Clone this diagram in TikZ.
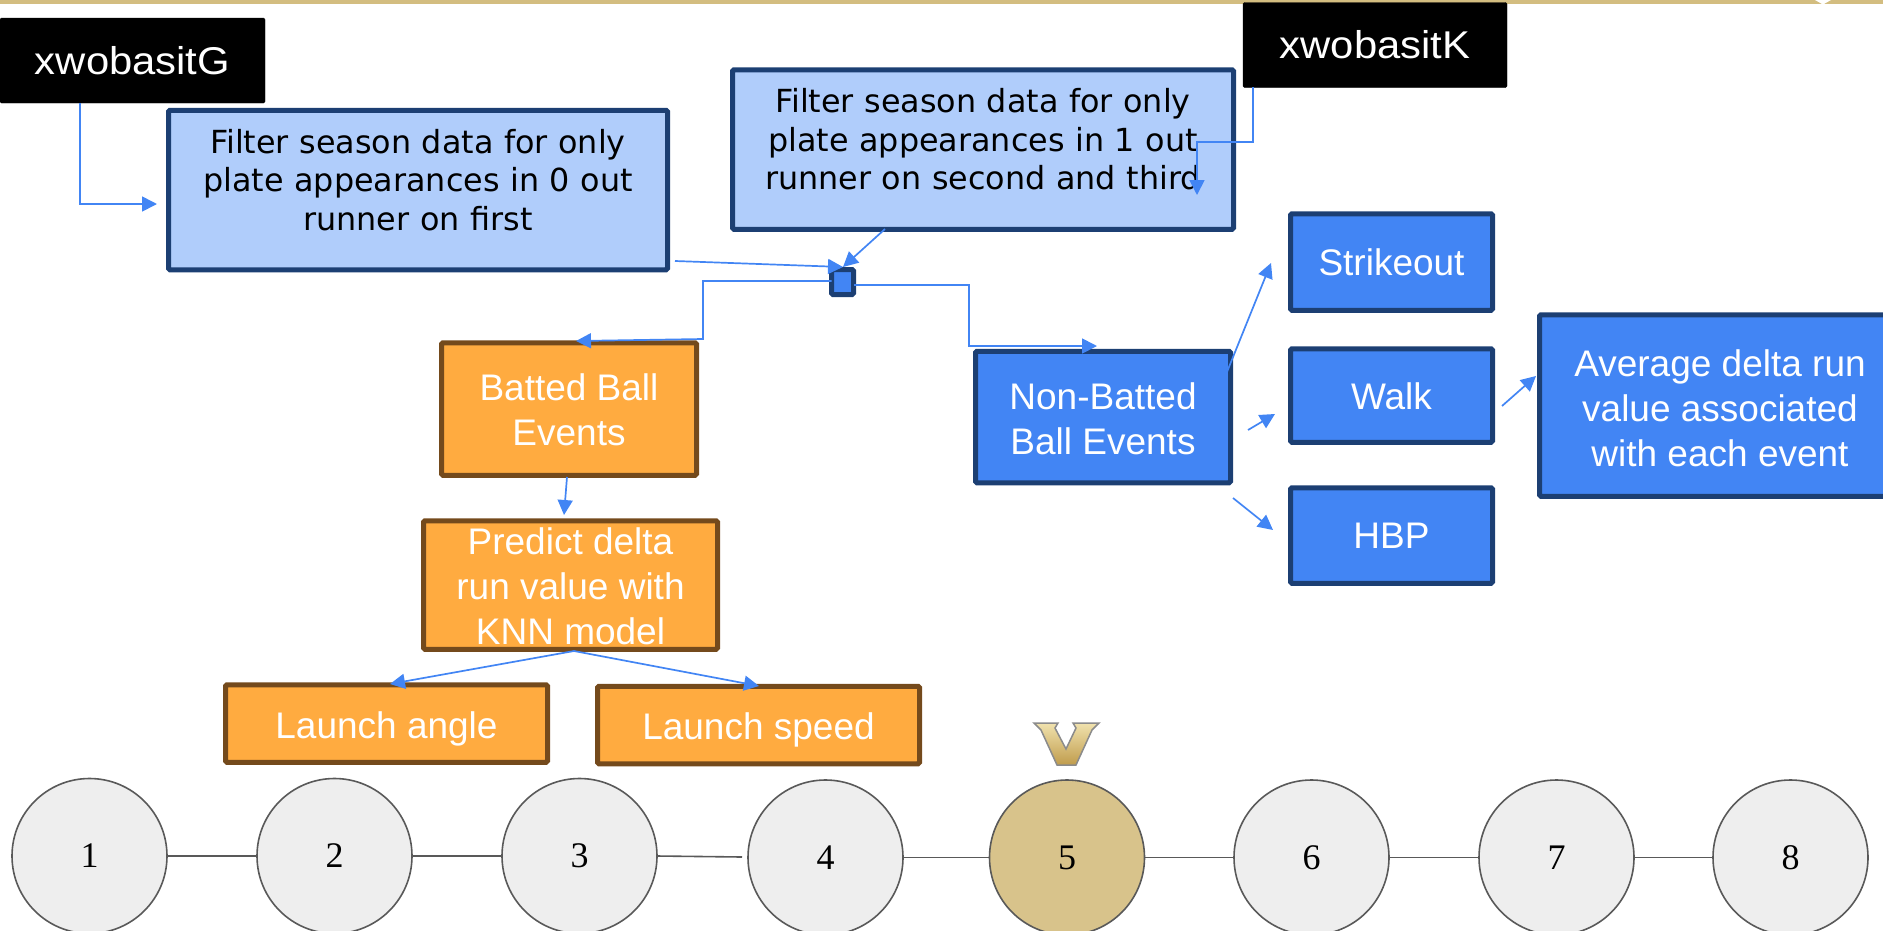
\documentclass[tikz,border=0pt]{standalone}
\usepackage{fontspec}
\setmainfont{Liberation Sans}
\newfontfamily\widefont{DejaVu Sans}
\newfontfamily\tagfont[FakeStretch=1.08]{Liberation Sans}
\newfontfamily\numfont{Liberation Serif}
\usetikzlibrary{arrows.meta,calc}
\definecolor{lblue}{HTML}{B0CDFB}
\definecolor{mblue}{HTML}{4285F4}
\definecolor{dblue}{HTML}{1C3F73}
\definecolor{orng}{HTML}{FFAB40}
\definecolor{dorng}{HTML}{744A1C}
\definecolor{gold}{HTML}{D8C38B}
\definecolor{barcol}{HTML}{D3BD80}
\definecolor{cgray}{HTML}{EEEEEE}
\definecolor{lgray}{HTML}{595959}
\definecolor{vtop}{HTML}{F0E2AE}
\definecolor{vbot}{HTML}{C09C4C}
\tikzset{
  bx/.style={draw,line width=5pt,rounded corners=1.5pt,inner sep=0pt,align=center,outer sep=0pt},
  filterbox/.style={bx,fill=lblue,draw=dblue,text=black,font=\widefont\fontsize{31.8}{38.5}\selectfont},
  bluebox/.style={bx,fill=mblue,draw=dblue,text=white,font=\fontsize{37}{45}\selectfont},
  orangebox/.style={bx,fill=orng,draw=dorng,text=white,font=\fontsize{37}{45}\selectfont},
  tagbox/.style={fill=black,draw=black,rounded corners=1.5pt,inner sep=0pt,text=white,outer sep=0pt,font=\tagfont\fontsize{38.7}{45}\selectfont},
  stepcirc/.style={circle,draw=lgray,line width=1.6pt,fill=cgray,minimum size=155pt,inner sep=0pt,outer sep=0pt,font=\numfont\fontsize{36}{40}\selectfont,text=black},
  arr/.style={draw=mblue,line width=1.7pt,-{Triangle[length=15pt,width=15pt,fill=mblue]}},
  lnk/.style={draw=lgray,line width=1.6pt}
}
\begin{document}
\begin{tikzpicture}[x=1pt,y=-1pt]
\useasboundingbox (0,0) rectangle (1883,930);
\begin{scope}
\clip (0,0) rectangle (1883,930);
% top bar
\fill[barcol] (0,0) rectangle (1883,3.5);
\fill[white] (1815,0) -- (1831,0) -- (1823,4.5) -- cycle;
% links
\node[stepcirc] (c1) at (89.5,856) {1};
\node[stepcirc] (c2) at (334.5,856) {2};
\node[stepcirc] (c3) at (579.5,856) {3};
\node[stepcirc] (c4) at (825.5,857.5) {4};
\node[stepcirc,fill=gold] (c5) at (1067,857.5) {5};
\node[stepcirc] (c6) at (1311.5,857.5) {6};
\node[stepcirc] (c7) at (1556.5,857.5) {7};
\node[stepcirc] (c8) at (1790.5,857.5) {8};
\coordinate (c4end) at (742,857);
\draw[lnk] (c1.east) -- (c2.west);
\draw[lnk] (c2.east) -- (c3.west);
\draw[lnk] (c3.east) -- (c4end);
\draw[lnk] (c4.east) -- (c5.west);
\draw[lnk] (c5.east) -- (c6.west);
\draw[lnk] (c6.east) -- (c7.west);
\draw[lnk] (c7.east) -- (c8.west);
% V logo
\shade[top color=vtop,bottom color=vbot,draw=lgray!70,line width=1.5pt]
 (1034,723) -- (1058,723) -- (1055,728) -- (1066,749) -- (1076,728) -- (1073,723) -- (1099,723) -- (1092,730) -- (1076,765) -- (1057,765) -- (1041,730) -- cycle;
% boxes
\node[tagbox,minimum width=265pt,minimum height=85pt] (xg) at (132.5,60.5) {xwobasitG};
\node[tagbox,minimum width=264pt,minimum height=85pt] (xk) at (1375,45) {xwobasitK};
\node[filterbox,minimum width=499pt,minimum height=159.5pt,text width=492pt] (f1) at (418,190) {Filter season data for only\\plate appearances in 0 out\\runner on first\par\vspace*{20pt}};
\node[filterbox,minimum width=501pt,minimum height=159.5pt,text width=497pt] (f2) at (983,149.5) {Filter season data for only\\plate appearances in 1 out\\runner on second and third\par\vspace*{20pt}};
\node[bx,fill=mblue,draw=dblue,minimum width=22pt,minimum height=25pt] (sq) at (842.5,282) {};
\node[orangebox,minimum width=255pt,minimum height=132.5pt] (batted) at (569,409) {\rule{0pt}{29pt}Batted Ball\\Events};
\node[bluebox,minimum width=255pt,minimum height=131.5pt] (nonb) at (1103,417) {\rule{0pt}{31pt}Non-Batted\\Ball Events};
\node[orangebox,minimum width=294pt,minimum height=128.5pt] (pred) at (570.5,585) {\rule{0pt}{29pt}Predict delta\\run value with\\KNN model};
\node[orangebox,minimum width=322pt,minimum height=77.5pt] (la) at (386.5,723.5) {\rule{0pt}{37pt}Launch angle};
\node[orangebox,minimum width=322pt,minimum height=77.5pt] (ls) at (758.5,725) {\rule{0pt}{37pt}Launch speed};
\node[bluebox,minimum width=202pt,minimum height=96.5pt] (so) at (1391.5,262) {Strikeout};
\node[bluebox,minimum width=202pt,minimum height=93.5pt] (wk) at (1391.5,395.5) {\rule{0pt}{29pt}Walk};
\node[bluebox,minimum width=202pt,minimum height=95.5pt] (hb) at (1391.5,535.5) {HBP};
\node[bluebox,minimum width=361pt,minimum height=181.5pt] (avg) at (1720,405.5) {\rule{0pt}{33pt}Average delta run\\value associated\\with each event};
% connectors
\coordinate (xgs) at (80,103);
\coordinate (f1in) at (157,204);
\coordinate (xks) at (1253,87);
\coordinate (f2in) at (1197,195);
\coordinate (f1o) at (675,261);
\coordinate (f2o) at (885,229);
\coordinate (sqin) at (843,267);
\coordinate (battin) at (576,341);
\coordinate (nonbin) at (1097,346);
\coordinate (bo) at (567,477);
\coordinate (pin) at (564,515);
\coordinate (po) at (574,651);
\coordinate (lain) at (390,684);
\coordinate (lsin) at (759,686);
\coordinate (nbo1) at (1210,414);
\coordinate (soin) at (1271,263);
\coordinate (nbo2) at (1248,430);
\coordinate (wkin) at (1275,414);
\coordinate (nbo3) at (1233,498);
\coordinate (hbin) at (1273,530);
\coordinate (wko) at (1502,406);
\coordinate (avin) at (1536,376);
\draw[arr] (xgs) |- (f1in);
\draw[arr] (xks) |- (1197,142) -- (f2in);
\draw[arr] (f1o) -- (sqin);
\draw[arr] (f2o) -- (sqin);
\draw[arr] (sq.west |- 0,281) -- (703,281) -- (703,339) -- (battin);
\draw[arr] (sq.east |- 0,285) -- (969,285) -- (969,346) -- (nonbin);
\draw[arr] (bo) -- (pin);
\draw[arr] (po) -- (lain);
\draw[arr] (po) -- (lsin);
\draw[arr] (nbo1) -- (soin);
\draw[arr] (nbo2) -- (wkin);
\draw[arr] (nbo3) -- (hbin);
\draw[arr] (wko) -- (avin);
\end{scope}
\end{tikzpicture}
\end{document}
